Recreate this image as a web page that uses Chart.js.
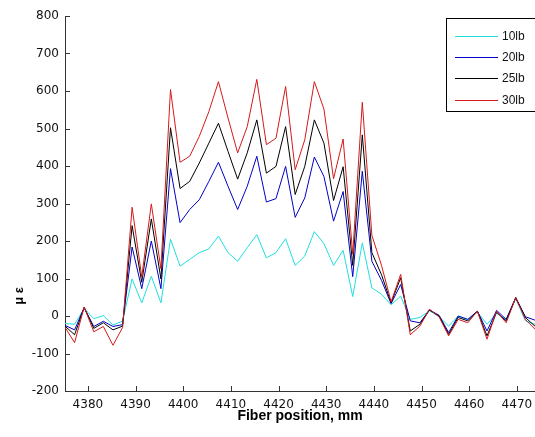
<!DOCTYPE html>
<html><head><meta charset="utf-8">
<script src="https://cdn.jsdelivr.net/npm/chart.js@4.4.0/dist/chart.umd.min.js"></script>
<style>html,body{margin:0;padding:0;background:#fff;overflow:hidden}#wrap{position:relative;width:535px;height:437px}</style>
</head><body><div id="wrap"><canvas id="c" width="535" height="437"></canvas></div>
<script>
// Fiber positions (mm)
const positions = [4375.20,4377.21,4379.22,4381.24,4383.25,4385.26,4387.27,4389.28,4391.30,4393.31,
  4395.32,4397.33,4399.34,4401.36,4403.37,4405.38,4407.39,4409.40,4411.42,4413.43,
  4415.44,4417.45,4419.46,4421.48,4423.49,4425.50,4427.51,4429.52,4431.54,4433.55,
  4435.56,4437.57,4439.58,4441.60,4443.61,4445.62,4447.63,4449.64,4451.66,4453.67,
  4455.68,4457.69,4459.70,4461.72,4463.73,4465.74,4467.75,4469.76,4471.78,4473.79];
const seriesNames = ['10lb','20lb','25lb','30lb'];
const strain10 = [-20,-22,20,-7,1,-24,-14,99,35,106,35,205,133,151,169,179,213,169,146,182,
  217,155,169,206,135,160,225,193,135,175,52,195,75,58,30,53,-9,-4,14,-2,
  -27,0,-9,10,-22,7,-9,46,-13,-22];
const strain20 = [-25,-37,22,-28,-14,-28,-23,184,73,200,73,393,249,284,310,359,410,346,284,346,
  426,304,313,399,263,315,424,372,253,332,105,386,146,95,33,84,-13,-18,16,2,
  -44,0,-9,13,-40,15,-9,49,-2,-11];
const strain25 = [-27,-50,23,-33,-18,-37,-27,241,90,259,99,502,340,359,408,461,514,439,365,435,
  523,381,399,505,324,399,523,461,308,398,135,483,169,110,35,102,-40,-22,16,0,
  -49,-4,-13,13,-53,10,-13,49,-4,-27];
const strain30 = [-30,-71,24,-42,-28,-78,-31,290,104,299,126,604,410,426,479,545,625,528,435,505,
  631,457,474,612,390,470,625,552,366,472,165,570,215,135,38,111,-50,-27,18,-2,
  -53,-9,-18,13,-62,13,-18,49,-9,-35];
const xTicks = [4380,4390,4400,4410,4420,4430,4440,4450,4460,4470];
const yTicks = [-200,-100,0,100,200,300,400,500,600,700,800];
const colors = ['#1fdede','#0000c8','#000000','#d41a1a'];

const allSeries = [strain10, strain20, strain25, strain30];
const datasets = allSeries.map((arr, i) => ({
  label: seriesNames[i],
  data: arr.map((v, k) => ({x: positions[k], y: v})),
  borderColor: colors[i],
  backgroundColor: colors[i],
  borderWidth: 1,
  pointRadius: 0,
  tension: 0,
  fill: false,
  order: 3 - i
}));

const tickFont = {family: '"DejaVu Sans", Arial, sans-serif', size: 12};
const axisColor = '#333';

const decor = {
  id: 'decor',
  afterDraw(chart) {
    const ctx = chart.ctx;
    const xs = chart.scales.x, ys = chart.scales.y;
    const a = chart.chartArea;
    ctx.save();
    ctx.strokeStyle = axisColor;
    ctx.lineWidth = 1;
    ctx.beginPath();
    xs.ticks.forEach(t => {
      const px = Math.round(xs.getPixelForValue(t.value)) + 0.5;
      ctx.moveTo(px, a.bottom); ctx.lineTo(px, a.bottom - 5);
    });
    ys.ticks.forEach(t => {
      const py = Math.round(ys.getPixelForValue(t.value)) + 0.5;
      ctx.moveTo(a.left, py); ctx.lineTo(a.left + 5, py);
    });
    ctx.stroke();
    // axis titles
    ctx.fillStyle = '#000';
    ctx.font = 'bold 14px "Liberation Sans", Arial, sans-serif';
    ctx.textAlign = 'center';
    ctx.textBaseline = 'middle';
    ctx.fillText('Fiber position, mm', (a.left + a.right) / 2, 416);
    ctx.save();
    ctx.translate(19, 296);
    ctx.rotate(-Math.PI / 2);
    ctx.font = 'bold 13px "Liberation Sans", Arial, sans-serif';
    ctx.fillText('\u03bc \u03b5', 0, 0);
    ctx.restore();
    // legend
    const lx = 446.5, ly = 18.5;
    ctx.fillStyle = '#fff';
    ctx.fillRect(lx, ly, 100, 93);
    ctx.strokeStyle = '#000';
    ctx.strokeRect(lx, ly, 100, 93);
    ctx.font = '12px "Liberation Sans", Arial, sans-serif';
    ctx.textAlign = 'left';
    ctx.textBaseline = 'middle';
    chart.data.datasets.forEach((ds, i) => {
      const yy = Math.round(36 + i * 21.2) + 0.5;
      ctx.strokeStyle = ds.borderColor;
      ctx.beginPath();
      ctx.moveTo(455, yy); ctx.lineTo(498, yy);
      ctx.stroke();
      ctx.fillStyle = '#111';
      ctx.fillText(ds.label, 502, yy);
    });
    ctx.restore();
  }
};

new Chart(document.getElementById('c'), {
  type: 'line',
  data: {datasets},
  options: {
    responsive: false,
    animation: false,
    events: [],
    layout: {padding: {top: 16, right: 0, left: 0, bottom: 0}},
    plugins: {legend: {display: false}, tooltip: {enabled: false}},
    scales: {
      x: {
        type: 'linear', min: 4375.2, max: 4473.8,
        grid: {display: false, drawTicks: false},
        border: {display: true, color: axisColor, width: 1},
        ticks: {font: tickFont, color: '#111', padding: 7, autoSkip: false, maxRotation: 0,
                callback: v => String(v)},
        afterBuildTicks: s => { s.ticks = xTicks.map(v => ({value: v})); },
        afterFit: s => { s.height = 46; s.paddingLeft = 0; s.paddingRight = 0; }
      },
      y: {
        type: 'linear', min: -200, max: 800,
        grid: {display: false, drawTicks: false},
        border: {display: true, color: axisColor, width: 1},
        ticks: {font: tickFont, color: '#111', padding: 6, callback: v => String(v)},
        afterBuildTicks: s => { s.ticks = yTicks.map(v => ({value: v})); },
        afterFit: s => { s.width = 65; s.paddingTop = 0; s.paddingBottom = 0; }
      }
    }
  },
  plugins: [decor]
});
</script>
</body></html>
